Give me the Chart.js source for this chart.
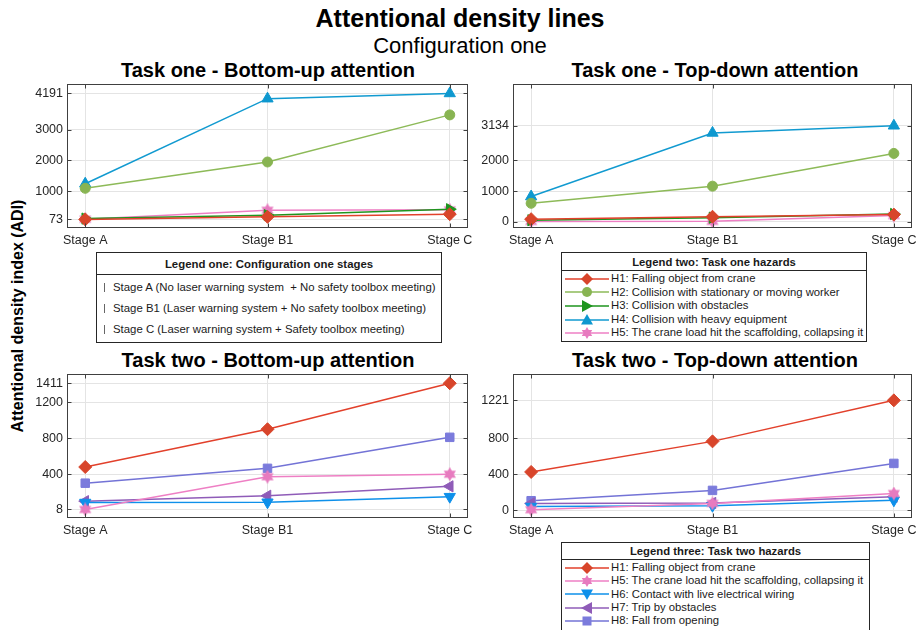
<!DOCTYPE html>
<html>
<head>
<meta charset="utf-8">
<script src="https://cdn.jsdelivr.net/npm/chart.js@4.4.1/dist/chart.umd.min.js"></script>
<style>
  html,body{margin:0;padding:0;background:#fff;}
  body{width:920px;height:630px;position:relative;overflow:hidden;font-family:"Liberation Sans",Arial,Helvetica,sans-serif;color:#000;}
  .c{position:absolute;transform:translate(-50%,-50%);white-space:nowrap;}
  canvas{position:absolute;}
  .legend{position:absolute;border:1px solid #262626;background:#fff;box-sizing:border-box;color:#1a1a1a;}
  .lhead{font-weight:bold;text-align:center;border-bottom:1px solid #262626;box-sizing:border-box;white-space:nowrap;}
  .lrow{position:relative;white-space:pre;}
  .lrow svg{position:absolute;left:3px;top:50%;transform:translateY(-50%);}
</style>
</head>
<body>
<div class="c" style="left:460px;top:18px;font-size:25px;font-weight:bold;">Attentional density lines</div>
<div class="c" style="left:460px;top:46px;font-size:22px;">Configuration one</div>
<div class="c" style="left:268px;top:70px;font-size:20px;font-weight:bold;">Task one - Bottom-up attention</div>
<div class="c" style="left:715px;top:70px;font-size:20px;font-weight:bold;">Task one - Top-down attention</div>
<div class="c" style="left:268px;top:360px;font-size:20px;font-weight:bold;">Task two - Bottom-up attention</div>
<div class="c" style="left:715px;top:360px;font-size:20px;font-weight:bold;">Task two - Top-down attention</div>
<div class="c" style="left:18px;top:316px;font-size:16px;font-weight:bold;transform:translate(-50%,-50%) rotate(-90deg);">Attentional density index (ADI)</div>

<canvas id="p1" width="480" height="176" style="left:0;top:76px;width:480px;height:176px"></canvas>
<canvas id="p2" width="450" height="176" style="left:470px;top:76px;width:450px;height:176px"></canvas>
<canvas id="p3" width="480" height="176" style="left:0;top:366px;width:480px;height:176px"></canvas>
<canvas id="p4" width="450" height="176" style="left:470px;top:366px;width:450px;height:176px"></canvas>

<div id="leg1" class="legend" style="left:96px;top:252px;width:346px;height:91px;font-size:11.4px;"></div>
<div id="leg2" class="legend" style="left:561px;top:252px;width:306px;height:90px;font-size:11.3px;"></div>
<div id="leg3" class="legend" style="left:561px;top:542px;width:309px;height:100px;font-size:11.3px;"></div>

<script>
// ---------------- data ----------------
const categories = ['Stage A', 'Stage B1', 'Stage C'];
const stageDescriptions = [
  'Stage A (No laser warning system  + No safety toolbox meeting)',
  'Stage B1 (Laser warning system + No safety toolbox meeting)',
  'Stage C (Laser warning system + Safety toolbox meeting)'
];
const hazardNames = {
  H1: 'H1: Falling object from crane',
  H2: 'H2: Collision with stationary or moving worker',
  H3: 'H3: Collision with obstacles',
  H4: 'H4: Collision with heavy equipment',
  H5: 'H5: The crane load hit the scaffolding, collapsing it',
  H6: 'H6: Contact with live electrical wiring',
  H7: 'H7: Trip by obstacles',
  H8: 'H8: Fall from opening'
};

// Task one - Bottom-up attention
const t1BottomUpH1 = [73, 157, 244];
const t1BottomUpH2 = [1090, 1950, 3490];
const t1BottomUpH3 = [100, 212, 405];
const t1BottomUpH4 = [1240, 4020, 4191];
const t1BottomUpH5 = [80, 372, 385];
// Task one - Top-down attention
const t1TopDownH1 = [80, 160, 230];
const t1TopDownH2 = [600, 1160, 2230];
const t1TopDownH3 = [45, 130, 250];
const t1TopDownH4 = [820, 2900, 3134];
const t1TopDownH5 = [5, 10, 200];
// Task two - Bottom-up attention
const t2BottomUpH1 = [480, 900, 1411];
const t2BottomUpH5 = [8, 372, 400];
const t2BottomUpH6 = [85, 88, 150];
const t2BottomUpH7 = [100, 160, 265];
const t2BottomUpH8 = [300, 465, 810];
// Task two - Top-down attention
const t2TopDownH1 = [425, 765, 1221];
const t2TopDownH5 = [5, 75, 185];
const t2TopDownH6 = [40, 50, 110];
const t2TopDownH7 = [75, 80, 150];
const t2TopDownH8 = [105, 220, 520];

// tick labels
const yTicksT1BottomUp = [73, 1000, 2000, 3000, 4191];
const yTicksT1TopDown = [0, 1000, 2000, 3134];
const yTicksT2BottomUp = [8, 400, 800, 1200, 1411];
const yTicksT2TopDown = [0, 400, 800, 1221];
const yLimitsTaskOne = [-208, 4500];
const yLimitsTaskTwo = [-87, 1514];

// ---------------- styles ----------------
const styles = {
  H1: {line: '#E2402B', fill: '#D8452B', shape: 'diamond'},
  H2: {line: '#8DBA58', fill: '#88B452', shape: 'circle'},
  H3: {line: '#1E951E', fill: '#1E951E', shape: 'triRight'},
  H4: {line: '#119AD0', fill: '#0E98CF', shape: 'triUp'},
  H5: {line: '#EE7FC4', fill: '#E77BBF', shape: 'hexagram'},
  H6: {line: '#0E90EA', fill: '#0E90EA', shape: 'triDown'},
  H7: {line: '#8F5CB8', fill: '#8F5CB8', shape: 'triLeft'},
  H8: {line: '#7373D6', fill: '#7B7BDC', shape: 'square'}
};

Chart.defaults.font.family = '"Liberation Sans", Arial, Helvetica, sans-serif';

function hexagramCanvas(color, size) {
  const c = document.createElement('canvas');
  c.width = size; c.height = size;
  const g = c.getContext('2d');
  const r = size / 2, ri = r / Math.sqrt(3);
  g.beginPath();
  for (let k = 0; k < 12; k++) {
    const a = -Math.PI / 2 + k * Math.PI / 6;
    const rr = (k % 2) ? ri : r;
    g.lineTo(r + rr * Math.cos(a), r + rr * Math.sin(a));
  }
  g.closePath();
  g.fillStyle = color; g.fill();
  return c;
}

function pointProps(shape, color) {
  switch (shape) {
    case 'diamond': return {pointStyle: 'rectRot', pointRadius: 6.5, pointRotation: 0};
    case 'circle': return {pointStyle: 'circle', pointRadius: 5, pointRotation: 0};
    case 'triUp': return {pointStyle: 'triangle', pointRadius: 6.5, pointRotation: 0};
    case 'triRight': return {pointStyle: 'triangle', pointRadius: 6.5, pointRotation: 90};
    case 'triDown': return {pointStyle: 'triangle', pointRadius: 6.5, pointRotation: 180};
    case 'triLeft': return {pointStyle: 'triangle', pointRadius: 6.5, pointRotation: 270};
    case 'square': return {pointStyle: 'rect', pointRadius: 6, pointRotation: 0};
    case 'hexagram': return {pointStyle: hexagramCanvas(color, 14), pointRadius: 7, pointRotation: 0};
  }
}

function makeDataset(key, values) {
  const s = styles[key];
  return Object.assign({
    label: hazardNames[key],
    data: values.map((v, i) => ({x: i, y: v})),
    borderColor: s.line,
    backgroundColor: s.fill,
    pointBackgroundColor: s.fill,
    pointBorderColor: s.fill,
    pointBorderWidth: 1,
    borderWidth: 1.5,
    tension: 0
  }, pointProps(s.shape, s.fill));
}

const boxPlugin = {
  id: 'matlabBox',
  afterDraw(chart) {
    const {ctx, chartArea: a, scales} = chart;
    ctx.save();
    ctx.strokeStyle = '#404040';
    ctx.lineWidth = 1;
    const L = Math.round(a.left) + 0.5, R = Math.round(a.right) - 0.5;
    const T = Math.round(a.top) + 0.5, B = Math.round(a.bottom) - 0.5;
    ctx.strokeRect(L, T, R - L, B - T);
    ctx.beginPath();
    scales.y.ticks.forEach(t => {
      const y = Math.round(scales.y.getPixelForValue(t.value)) + 0.5;
      ctx.moveTo(L, y); ctx.lineTo(L + 4, y);
      ctx.moveTo(R, y); ctx.lineTo(R - 4, y);
    });
    scales.x.ticks.forEach(t => {
      const x = Math.round(scales.x.getPixelForValue(t.value)) + 0.5;
      ctx.moveTo(x, B); ctx.lineTo(x, B - 4);
      ctx.moveTo(x, T); ctx.lineTo(x, T + 4);
    });
    ctx.stroke();
    ctx.restore();
  }
};

function makeChart(id, datasets, yTicks, yLim, pad, yWidth) {
  const tickFont = {size: 12.5};
  const tickColor = '#262626';
  return new Chart(document.getElementById(id), {
    type: 'line',
    data: {datasets},
    options: {
      responsive: false,
      animation: false,
      layout: {padding: pad},
      plugins: {legend: {display: false}, tooltip: {enabled: false}, title: {display: false}},
      scales: {
        x: {
          type: 'linear', min: -0.1, max: 2.1,
          afterBuildTicks: s => { s.ticks = categories.map((c, i) => ({value: i})); },
          ticks: {callback: v => categories[v], font: tickFont, color: tickColor, padding: 5, maxRotation: 0, autoSkip: false},
          grid: {color: '#e4e4e4', drawTicks: false, lineWidth: 1},
          border: {display: false},
          afterFit: s => { s.height = 24; s.paddingLeft = 0; s.paddingRight = 0; }
        },
        y: {
          type: 'linear', min: yLim[0], max: yLim[1],
          afterBuildTicks: s => { s.ticks = yTicks.map(v => ({value: v})); },
          ticks: {callback: v => String(v), font: tickFont, color: tickColor, padding: 4, autoSkip: false},
          grid: {color: '#e4e4e4', drawTicks: false, lineWidth: 1},
          border: {display: false},
          afterFit: s => { s.width = yWidth; s.paddingTop = 0; s.paddingBottom = 0; }
        }
      }
    },
    plugins: [boxPlugin]
  });
}

makeChart('p1', [
  makeDataset('H1', t1BottomUpH1), makeDataset('H2', t1BottomUpH2), makeDataset('H3', t1BottomUpH3),
  makeDataset('H4', t1BottomUpH4), makeDataset('H5', t1BottomUpH5)
], yTicksT1BottomUp, yLimitsTaskOne, {left: 0, top: 5, right: 12, bottom: 0}, 67);

makeChart('p2', [
  makeDataset('H1', t1TopDownH1), makeDataset('H2', t1TopDownH2), makeDataset('H3', t1TopDownH3),
  makeDataset('H4', t1TopDownH4), makeDataset('H5', t1TopDownH5)
], yTicksT1TopDown, yLimitsTaskOne, {left: 0, top: 6, right: 4, bottom: 0}, 43);

makeChart('p3', [
  makeDataset('H1', t2BottomUpH1), makeDataset('H5', t2BottomUpH5), makeDataset('H6', t2BottomUpH6),
  makeDataset('H7', t2BottomUpH7), makeDataset('H8', t2BottomUpH8)
], yTicksT2BottomUp, yLimitsTaskTwo, {left: 0, top: 5, right: 12, bottom: 0}, 67);

makeChart('p4', [
  makeDataset('H1', t2TopDownH1), makeDataset('H5', t2TopDownH5), makeDataset('H6', t2TopDownH6),
  makeDataset('H7', t2TopDownH7), makeDataset('H8', t2TopDownH8)
], yTicksT2TopDown, yLimitsTaskTwo, {left: 0, top: 5, right: 4, bottom: 0}, 43);

// ---------------- legends ----------------
function markerSvg(key) {
  const s = styles[key];
  const cx = 22, cy = 6;
  let m = '';
  switch (s.shape) {
    case 'diamond': m = `<polygon points="${cx},0 ${cx+6},6 ${cx},12 ${cx-6},6" fill="${s.fill}"/>`; break;
    case 'circle': m = `<circle cx="${cx}" cy="${cy}" r="5" fill="${s.fill}"/>`; break;
    case 'triUp': m = `<polygon points="${cx},0 ${cx+6},10.5 ${cx-6},10.5" fill="${s.fill}"/>`; break;
    case 'triDown': m = `<polygon points="${cx},12 ${cx+6},1.5 ${cx-6},1.5" fill="${s.fill}"/>`; break;
    case 'triRight': m = `<polygon points="${cx+6},6 ${cx-5},0 ${cx-5},12" fill="${s.fill}"/>`; break;
    case 'triLeft': m = `<polygon points="${cx-6},6 ${cx+5},0 ${cx+5},12" fill="${s.fill}"/>`; break;
    case 'square': m = `<rect x="${cx-4.5}" y="1.5" width="9" height="9" fill="${s.fill}"/>`; break;
    case 'hexagram': {
      const pts = [];
      for (let k = 0; k < 12; k++) {
        const a = -Math.PI / 2 + k * Math.PI / 6;
        const rr = (k % 2) ? 6 / Math.sqrt(3) : 6;
        pts.push((cx + rr * Math.cos(a)).toFixed(2) + ',' + (cy + rr * Math.sin(a)).toFixed(2));
      }
      m = `<polygon points="${pts.join(' ')}" fill="${s.fill}"/>`;
      break;
    }
  }
  return `<svg width="44" height="12" viewBox="0 0 44 12"><line x1="0" y1="6" x2="44" y2="6" stroke="${s.line}" stroke-width="1.5"/>${m}</svg>`;
}

function hazardLegend(id, title, keys, headH, rowH) {
  const el = document.getElementById(id);
  let html = `<div class="lhead" style="height:${headH}px;line-height:${headH}px;">${title}</div><div style="padding-top:1px">`;
  keys.forEach(k => {
    html += `<div class="lrow" style="height:${rowH}px;line-height:${rowH}px;padding-left:49px;">${markerSvg(k)}${hazardNames[k]}</div>`;
  });
  html += '</div>';
  el.innerHTML = html;
}

(function () {
  const el = document.getElementById('leg1');
  let html = '<div class="lhead" style="height:22px;line-height:22px;">Legend one: Configuration one stages</div><div style="padding-top:2px">';
  stageDescriptions.forEach(t => {
    html += `<div class="lrow" style="height:21px;line-height:21px;padding-left:16px;"><span style="position:absolute;left:7px;top:6px;width:1px;height:9px;background:#666"></span>${t}</div>`;
  });
  html += '</div>';
  el.innerHTML = html;
})();

hazardLegend('leg2', 'Legend two: Task one hazards', ['H1', 'H2', 'H3', 'H4', 'H5'], 18, 13.6);
hazardLegend('leg3', 'Legend three: Task two hazards', ['H1', 'H5', 'H6', 'H7', 'H8'], 17, 13.3);
</script>
</body>
</html>
